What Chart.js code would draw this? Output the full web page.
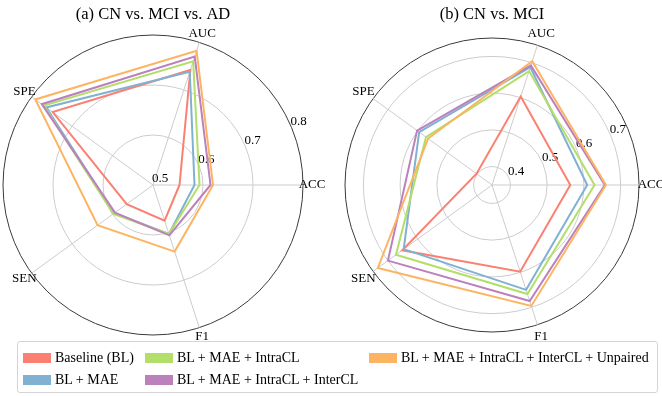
<!DOCTYPE html>
<html>
<head>
<meta charset="utf-8">
<script src="https://cdn.jsdelivr.net/npm/chart.js@4.4.1/dist/chart.umd.min.js"></script>
<style>
  body { margin: 0; background: #fff; }
  #wrap { position: relative; width: 662px; height: 396px; overflow: hidden; font-family: 'Liberation Serif', 'Times New Roman', serif; }
  canvas { position: absolute; top: 0; }
  #chartA { left: 0; }
  #chartB { left: 331px; }
  #legend { position: absolute; left: 17px; top: 341px; width: 641px; height: 52px; border: 1px solid #d4d4d4; border-radius: 3px; box-sizing: border-box; }
  .item { position: absolute; height: 14px; display: flex; align-items: center; font-size: 14px; white-space: nowrap; color: #000; }
  .item .sw { width: 28px; height: 10px; margin-right: 4px; }
</style>
</head>
<body>
<div id="wrap">
  <canvas id="chartA" width="331" height="345"></canvas>
  <canvas id="chartB" width="331" height="345"></canvas>
  <div id="legend"></div>
</div>
<script>
// metrics, counter-clockwise from the right
const categories = ['ACC', 'AUC', 'SPE', 'SEN', 'F1'];
const seriesNames = ['Baseline (BL)', 'BL + MAE', 'BL + MAE + IntraCL', 'BL + MAE + IntraCL + InterCL', 'BL + MAE + IntraCL + InterCL + Unpaired'];
const colors = ['#FB8072', '#80B1D3', '#B3DE69', '#BC80BD', '#FDB462'];

// (a) CN vs. MCI vs. AD
const a_baseline = [0.553, 0.742, 0.748, 0.565, 0.575];
const a_mae      = [0.583, 0.738, 0.764, 0.596, 0.603];
const a_intra    = [0.593, 0.760, 0.770, 0.598, 0.603];
const a_inter    = [0.615, 0.770, 0.775, 0.594, 0.606];
const a_unpaired = [0.620, 0.782, 0.791, 0.637, 0.640];
const a_ticks = [0.5, 0.6, 0.7, 0.8];

// (b) CN vs. MCI
const b_baseline = [0.563, 0.603, 0.402, 0.652, 0.598];
const b_mae      = [0.609, 0.687, 0.595, 0.647, 0.650];
const b_intra    = [0.629, 0.676, 0.572, 0.673, 0.662];
const b_inter    = [0.657, 0.692, 0.602, 0.700, 0.682];
const b_unpaired = [0.660, 0.704, 0.565, 0.734, 0.696];
const b_ticks = [0.4, 0.5, 0.6, 0.7];

// chart.js goes clockwise, the figure goes counter-clockwise
const cw = arr => [0, 4, 3, 2, 1].map(i => arr[i]);

const radarText = {
    id: 'radarText',
    beforeDatasetsDraw(chart, args, opts) {
        const { ctx } = chart; const r = chart.scales.r;
        const ang = 22.5 * Math.PI / 180;
        ctx.save();
        ctx.fillStyle = '#000'; ctx.font = '13px "Liberation Serif"';
        ctx.textAlign = 'left'; ctx.textBaseline = 'bottom';
        opts.ticks.forEach(v => {
            const d = r.getDistanceFromCenterForValue(v);
            ctx.fillText(v.toFixed(1), r.xCenter + d * Math.cos(ang) - 1, r.yCenter - d * Math.sin(ang));
        });
        ctx.restore();
    },
    afterDraw(chart, args, opts) {
        const { ctx } = chart; const r = chart.scales.r;
        ctx.save();
        ctx.fillStyle = '#000'; ctx.textAlign = 'center'; ctx.textBaseline = 'middle';
        ctx.font = '16.5px "Liberation Serif"';
        ctx.fillText(opts.title, r.xCenter, 15);
        ctx.font = '13px "Liberation Serif"';
        chart.data.labels.forEach((lab, i) => {
            const p = r.getPointPosition(i, r.drawingArea + opts.labelPad);
            ctx.fillText(lab, p.x, p.y);
        });
        ctx.restore();
    }
};

function makeRadar(id, title, sets, min, max, gridVals, ticks, padding, labelPad) {
    return new Chart(document.getElementById(id), {
        type: 'radar',
        data: {
            labels: cw(categories),
            datasets: sets.map((s, i) => ({
                label: seriesNames[i], data: cw(s), borderColor: colors[i], backgroundColor: 'transparent',
                borderWidth: 2, pointRadius: 0, fill: false, order: sets.length - i
            }))
        },
        options: {
            responsive: false, animation: false,
            layout: { padding },
            elements: { line: { tension: 0, borderJoinStyle: 'miter' } },
            scales: {
                r: {
                    min, max, startAngle: 90,
                    afterBuildTicks: s => { s.ticks = gridVals.map(v => ({ value: v })); },
                    ticks: { display: false },
                    pointLabels: { display: false },
                    grid: {
                        circular: true,
                        color: c => (c.tick && Math.abs(c.tick.value - max) < 1e-9) ? '#3a3a3a' : '#cccccc',
                        lineWidth: 1
                    },
                    angleLines: { color: '#cccccc', lineWidth: 1 }
                }
            },
            plugins: { legend: { display: false }, tooltip: { enabled: false }, radarText: { title, ticks, labelPad } }
        },
        plugins: [radarText]
    });
}

makeRadar('chartA', '(a) CN vs. MCI vs. AD', [a_baseline, a_mae, a_intra, a_inter, a_unpaired],
    0.5, 0.8, [0.5, 0.6, 0.7, 0.8], a_ticks, { left: 3, right: 28, top: 35, bottom: 10 }, 9);
makeRadar('chartB', '(b) CN vs. MCI', [b_baseline, b_mae, b_intra, b_inter, b_unpaired],
    0.35, 0.75, [0.35, 0.4, 0.5, 0.6, 0.7, 0.75], b_ticks, { left: 14, right: 23, top: 38, bottom: 13 }, 12);

// legend, matplotlib style: 3 columns filled column by column
const legendCols = [5, 127, 351];
const legendRows = [9, 31];
const legend = document.getElementById('legend');
seriesNames.forEach((name, i) => {
    const el = document.createElement('div');
    el.className = 'item';
    el.style.left = legendCols[Math.floor(i / 2)] + 'px';
    el.style.top = legendRows[i % 2] + 'px';
    el.innerHTML = `<div class="sw" style="background:${colors[i]}"></div><span>${name}</span>`;
    legend.appendChild(el);
});
</script>
</body>
</html>
